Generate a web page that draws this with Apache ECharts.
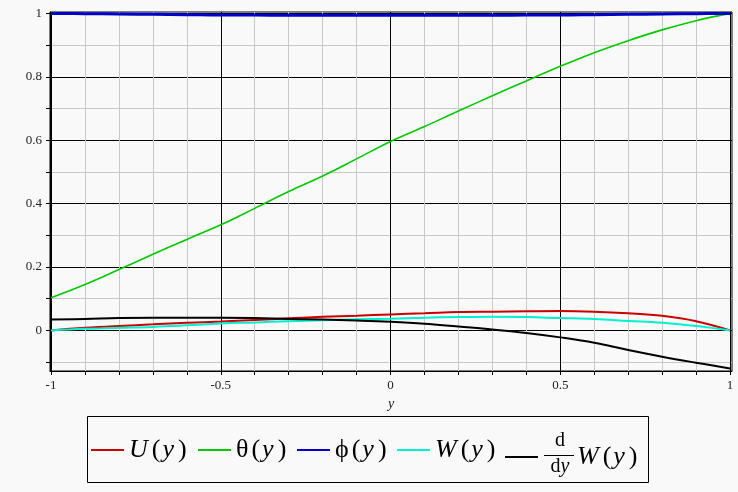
<!DOCTYPE html>
<html>
<head>
<meta charset="utf-8">
<script src="https://cdn.jsdelivr.net/npm/echarts@6/dist/echarts.min.js"></script>
<style>
html,body{margin:0;padding:0;background:#f9f9f9;}
#chart{width:738px;height:492px;}
</style>
</head>
<body>
<div id="chart"></div>
<script>
// sample positions along y
const ys = [-1, -0.9, -0.8, -0.7, -0.6, -0.5, -0.4, -0.3, -0.2, -0.1, 0, 0.1, 0.2, 0.3, 0.4, 0.5, 0.6, 0.7, 0.8, 0.9, 1];
// series values
const U     = [0, 0.008, 0.014, 0.019, 0.024, 0.028, 0.033, 0.038, 0.043, 0.046, 0.0505, 0.054, 0.058, 0.059, 0.060, 0.061, 0.059, 0.054, 0.046, 0.029, 0];
const theta = [0.103, 0.145, 0.192, 0.240, 0.287, 0.333, 0.385, 0.438, 0.487, 0.541, 0.596, 0.643, 0.692, 0.740, 0.787, 0.833, 0.876, 0.914, 0.948, 0.977, 1.0];
const phi   = [1.0, 0.999, 0.998, 0.997, 0.996, 0.995, 0.995, 0.994, 0.994, 0.994, 0.994, 0.994, 0.994, 0.994, 0.995, 0.995, 0.996, 0.997, 0.998, 0.999, 1.0];
const W     = [0, 0.005, 0.008, 0.011, 0.016, 0.022, 0.025, 0.029, 0.032, 0.035, 0.037, 0.040, 0.042, 0.043, 0.042, 0.039, 0.036, 0.030, 0.024, 0.014, 0];
const dW    = [0.034, 0.036, 0.039, 0.040, 0.040, 0.040, 0.039, 0.036, 0.034, 0.031, 0.027, 0.021, 0.012, 0.003, -0.008, -0.022, -0.039, -0.062, -0.083, -0.102, -0.120];
// tick values / labels
const xTicks = [-1, -0.9, -0.8, -0.7, -0.6, -0.5, -0.4, -0.3, -0.2, -0.1, 0, 0.1, 0.2, 0.3, 0.4, 0.5, 0.6, 0.7, 0.8, 0.9, 1];
const xLabels = [-1, -0.5, 0, 0.5, 1];
const yTicks = [-0.1, 0, 0.1, 0.2, 0.3, 0.4, 0.5, 0.6, 0.7, 0.8, 0.9, 1];
const yLabels = [0, 0.2, 0.4, 0.6, 0.8, 1];

const names = ['U(y)', 'θ(y)', 'ϕ(y)', 'W(y)', 'dW/dy'];
const colors = ['#c80000', '#00c800', '#0000c8', '#00f0d0', '#000000'];
const values = [U, theta, phi, W, dW];
const widths = [2, 1.6, 3, 2, 2];

const FONT = '"Liberation Serif", "DejaVu Serif", serif';
const fmt = v => (Math.abs(v - Math.round(v)) < 1e-9 ? String(Math.round(v)) : v.toFixed(1));

const XMIN = -1.003, XMAX = 1.0058, YMIN = -0.1281, YMAX = 1.0044;

const legendText = {
  'U(y)': '{i|U}{p|(}{i|y}{p|)}',
  'θ(y)': '{n|θ}{p|(}{i|y}{p|)}',
  'ϕ(y)': '{n|ϕ}{p|(}{i|y}{p|)}',
  'W(y)': '{i|W}{p|(}{i|y}{p|)}',
  'dW/dy': '{sp|}{i|W}{p|(}{i|y}{p|)}'
};
const rich = {
  i: {fontFamily: FONT, fontStyle: 'italic', fontSize: 26, color: '#000', padding: [0, 2, 0, 0]},
  n: {fontFamily: FONT, fontSize: 26, color: '#000', padding: [0, 1, 0, 0]},
  p: {fontFamily: FONT, fontSize: 26, color: '#000', padding: [0, 2, 0, 2]},
  sp: {width: 34}
};
const legendLefts = [91, 198, 297, 397, 505];
const legendTops = [435, 435, 435, 435, 442];

const legends = names.map((n, k) => ({
  data: [n],
  left: legendLefts[k],
  top: legendTops[k],
  orient: 'horizontal',
  padding: 0,
  icon: 'rect',
  itemWidth: 33,
  itemHeight: 2,
  itemStyle: {borderWidth: 0},
  selectedMode: false,
  formatter: name => legendText[name],
  textStyle: {fontFamily: FONT, fontSize: 26, lineHeight: 30, color: '#000', rich: rich}
}));

const series = names.map((n, k) => ({
  name: n,
  type: 'line',
  data: ys.map((x, j) => [x, values[k][j]]),
  showSymbol: false,
  symbol: 'none',
  smooth: 0.4,
  color: colors[k],
  lineStyle: {color: colors[k], width: widths[k]},
  emphasis: {disabled: true},
  z: 3 + k
}));

const chart = echarts.init(document.getElementById('chart'), null, {renderer: 'canvas'});
chart.setOption({
  backgroundColor: '#f9f9f9',
  animation: false,
  grid: {left: 50, right: 6, top: 12, bottom: 121, show: true, borderColor: '#000', borderWidth: 1, backgroundColor: 'transparent'},
  xAxis: [{
    type: 'value', min: XMIN, max: XMAX,
    axisLine: {show: true, onZero: false, lineStyle: {color: '#000', width: 1}},
    axisTick: {show: true, customValues: xTicks, length: 4, lineStyle: {color: '#000'}},
    axisLabel: {customValues: xLabels, formatter: fmt, margin: 8, fontFamily: FONT, fontSize: 13, color: '#222'},
    splitLine: {show: true, lineStyle: {color: ['#000', '#c8c8c8', '#c8c8c8', '#c8c8c8', '#c8c8c8'], width: 1}},
    name: 'y', nameLocation: 'middle', nameGap: 22,
    nameTextStyle: {fontFamily: FONT, fontStyle: 'italic', fontSize: 14, color: '#222'}
  }],
  yAxis: [{
    type: 'value', min: YMIN, max: YMAX,
    axisLine: {show: true, onZero: false, lineStyle: {color: '#000', width: 1}},
    axisTick: {show: true, customValues: yTicks, length: 4, lineStyle: {color: '#000'}},
    axisLabel: {show: false},
    splitLine: {show: true, lineStyle: {color: ['#c8c8c8', '#000'], width: 1}}
  }, {
    type: 'value', min: YMIN, max: YMAX, position: 'left',
    axisLine: {show: false},
    axisTick: {show: true, customValues: yLabels, length: 7, lineStyle: {color: '#000'}},
    axisLabel: {customValues: yLabels, formatter: fmt, margin: 8, fontFamily: FONT, fontSize: 13, color: '#222'},
    splitLine: {show: false}
  }],
  legend: legends,
  series: series,
  graphic: [
    {type: 'rect', shape: {x: 87.5, y: 416.5, width: 561, height: 66}, style: {fill: 'none', stroke: '#000', lineWidth: 1}, silent: true},
    {type: 'text', x: 560, y: 441, style: {text: 'd', font: '20px ' + FONT, fill: '#000', align: 'center', verticalAlign: 'middle'}, silent: true},
    {type: 'line', shape: {x1: 544, y1: 455.5, x2: 574, y2: 455.5}, style: {stroke: '#000', lineWidth: 1}, silent: true},
    {type: 'text', x: 560, y: 467, style: {text: '{n|d}{i|y}', align: 'center', verticalAlign: 'middle',
      rich: {n: {fontFamily: FONT, fontSize: 20, fill: '#000'}, i: {fontFamily: FONT, fontStyle: 'italic', fontSize: 20, fill: '#000'}}}, silent: true}
  ]
});
</script>
</body>
</html>
